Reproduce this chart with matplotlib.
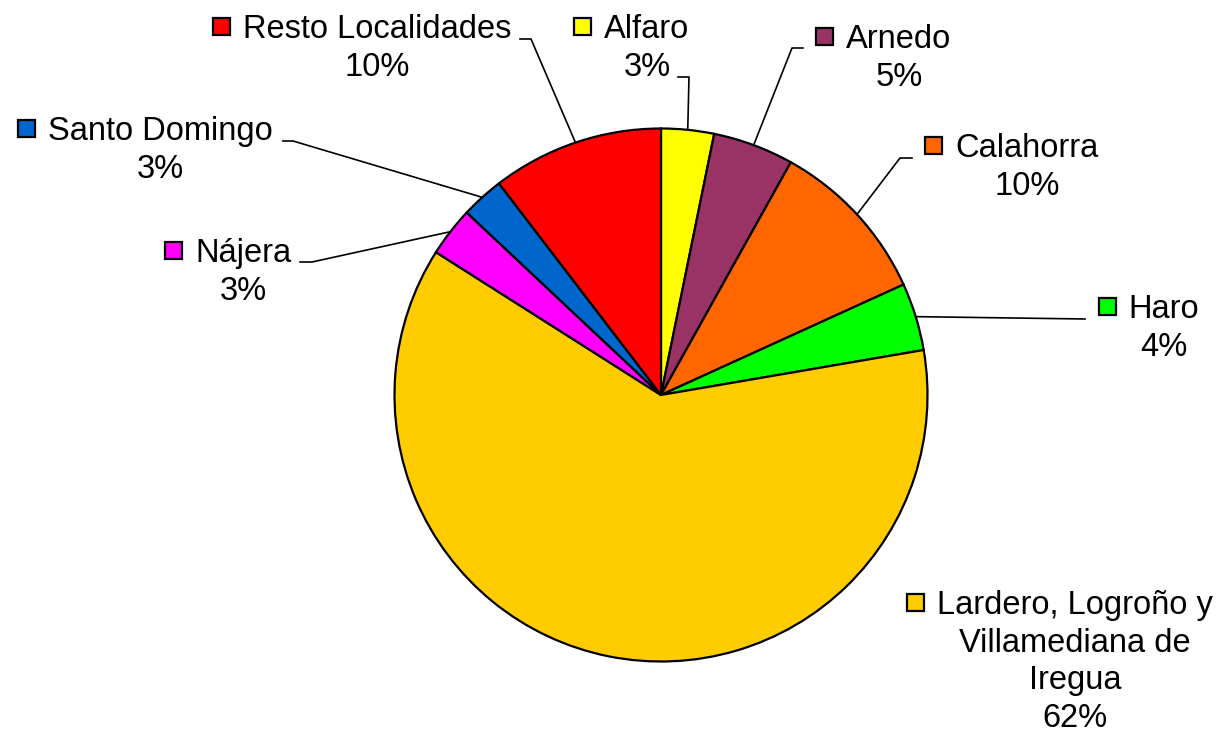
import numpy as np
import matplotlib.pyplot as plt
from matplotlib.patches import Rectangle

# Datos del grafico (porcentaje por localidad)
zonas = ['Alfaro', 'Arnedo', 'Calahorra', 'Haro',
         'Lardero, Logroño y\nVillamediana de\nIregua',
         'Nájera', 'Santo Domingo', 'Resto Localidades']
porcentajes = [3.2, 4.9, 10.1, 4.1, 61.7, 3.0, 2.6, 10.4]
colores = ['#FFFF00', '#993366', '#FF6600', '#00FF00',
           '#FFCC00', '#FF00FF', '#0066CC', '#FF0000']

# Posicion de las etiquetas (centro x del texto, linea base de la 1a linea) en pixeles
etiq_x = [647, 899, 1027, 1164, 1075, 243, 160, 377]
etiq_y = [38, 48, 157, 318, 614, 262, 140, 38]
# Puntos de la linea guia desde la etiqueta hasta el borde del sector
guias = [[(678, 77), (689, 77)], [(803, 48), (792, 48)], [(912, 158), (900, 158)],
         [(1085, 319)], [], [(300, 262), (312, 262)], [(283, 141), (293, 141)],
         [(520, 39), (531, 39)]]

fuente = 'Liberation Sans'
tam = 23.5
salto = 37.7

fig = plt.figure(figsize=(12.22, 7.33), dpi=100)
ax = fig.add_axes([0, 0, 1, 1])

centro = (661, 395)
radio = 266.5
sectores, _ = ax.pie(porcentajes, colors=colores, startangle=-90, counterclock=True,
                     center=centro, radius=radio,
                     wedgeprops=dict(edgecolor='black', linewidth=1.6))
ax.set_xlim(0, 1222)
ax.set_ylim(733, 0)
ax.axis('off')

textos = []
for i, nombre in enumerate(zonas):
    lineas = nombre.split('\n') + ['%d%%' % round(porcentajes[i])]
    for j, linea in enumerate(lineas):
        t = ax.text(etiq_x[i], etiq_y[i] + j * salto, linea, ha='center', va='baseline',
                    fontsize=tam, family=fuente, color='black')
        if j == 0:
            textos.append(t)

    # linea guia hasta el punto medio del sector
    if guias[i]:
        w = sectores[i]
        ang = np.deg2rad((w.theta1 + w.theta2) / 2)
        fin = (centro[0] + radio * np.cos(ang), centro[1] + radio * np.sin(ang))
        pts = guias[i] + [fin]
        ax.plot([p[0] for p in pts], [p[1] for p in pts], color='black', lw=1.2)

# cuadrado de color a la izquierda de la primera linea
fig.canvas.draw()
rend = fig.canvas.get_renderer()
inv = ax.transData.inverted()
for i, t in enumerate(textos):
    bb = t.get_window_extent(rend)
    izq = inv.transform((bb.x0, bb.y0))[0]
    lado = 17
    ax.add_patch(Rectangle((izq - 13 - lado, etiq_y[i] - 3 - lado), lado, lado,
                           facecolor=colores[i], edgecolor='black', lw=1.6))

fig.savefig('out.png', dpi=100, facecolor='white')
